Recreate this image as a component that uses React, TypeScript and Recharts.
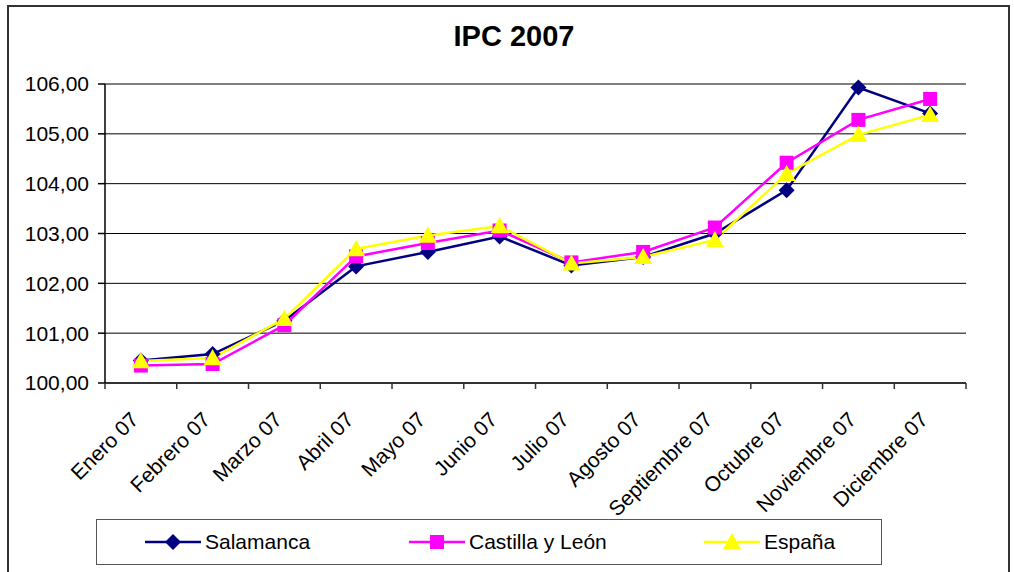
import React from 'react';
import { CartesianGrid, Line, LineChart, XAxis, YAxis } from 'recharts';

const months = [
  'Enero 07',
  'Febrero 07',
  'Marzo 07',
  'Abril 07',
  'Mayo 07',
  'Junio 07',
  'Julio 07',
  'Agosto 07',
  'Septiembre 07',
  'Octubre 07',
  'Noviembre 07',
  'Diciembre 07',
];

const salamanca = [100.45, 100.58, 101.25, 102.34, 102.63, 102.94, 102.36, 102.53, 103.0, 103.87, 105.93, 105.41];
const castillaLeon = [100.35, 100.38, 101.16, 102.54, 102.81, 103.06, 102.42, 102.63, 103.12, 104.42, 105.28, 105.7];
const espana = [100.44, 100.5, 101.29, 102.69, 102.96, 103.15, 102.4, 102.53, 102.87, 104.2, 104.98, 105.38];

const yTicks = [100, 101, 102, 103, 104, 105, 106];

const data = months.map((m, i) => ({
  month: m,
  salamanca: salamanca[i],
  castillaLeon: castillaLeon[i],
  espana: espana[i],
}));

const FONT = '"Liberation Sans", Arial, sans-serif';
const HALF = 35.85; // half of a category slot
const NAVY = '#000080';
const MAGENTA = '#FF00FF';
const YELLOW = '#FFFF00';

const Diamond = ({ cx, cy, fill, s = 8 }: any) =>
  cx == null || cy == null ? null : (
    <path d={`M${cx},${cy - s} L${cx + s},${cy} L${cx},${cy + s} L${cx - s},${cy} Z`} fill={fill} />
  );

const Square = ({ cx, cy, fill, s = 7 }: any) =>
  cx == null || cy == null ? null : <rect x={cx - s} y={cy - s} width={s * 2} height={s * 2} fill={fill} />;

const Triangle = ({ cx, cy, fill, s = 9 }: any) =>
  cx == null || cy == null ? null : (
    <path d={`M${cx},${cy - s} L${cx + s},${cy + s * 0.8} L${cx - s},${cy + s * 0.8} Z`} fill={fill} />
  );

const MonthTick = ({ x, y, payload, index }: any) => (
  <g>
    <line x1={x - HALF} y1={y} x2={x - HALF} y2={y + 6} stroke='#333' strokeWidth={1.5} />
    {index === months.length - 1 && (
      <line x1={x + HALF} y1={y} x2={x + HALF} y2={y + 6} stroke='#333' strokeWidth={1.5} />
    )}
    <text
      x={x - 1}
      y={y + 38}
      transform={`rotate(-45, ${x - 1}, ${y + 38})`}
      textAnchor='end'
      fontSize={21}
      fontFamily={FONT}
      fill='#000'
    >
      {payload.value}
    </text>
  </g>
);

const legendItems = [
  { label: 'Salamanca', color: NAVY, left: 48, Marker: Diamond },
  { label: 'Castilla y León', color: MAGENTA, left: 312, Marker: Square },
  { label: 'España', color: YELLOW, left: 607, Marker: Triangle },
];

const App = () => {
  return (
    <div
      style={{
        position: 'absolute',
        left: 0,
        top: 0,
        width: 1014,
        height: 572,
        overflow: 'hidden',
        background: '#fff',
        fontFamily: FONT,
      }}
    >
      <div
        style={{
          position: 'absolute',
          left: 7,
          top: 5,
          width: 999,
          height: 620,
          border: '2px solid #333',
        }}
      />
      <div
        style={{
          position: 'absolute',
          left: 0,
          top: 22,
          width: 1028,
          textAlign: 'center',
          fontSize: 29,
          lineHeight: '29px',
          fontWeight: 'bold',
        }}
      >
        IPC 2007
      </div>

      <div style={{ position: 'absolute', left: 0, top: 0 }}>
        <LineChart width={1014} height={572} data={data} margin={{ top: 84, right: 48, left: 6, bottom: 0 }}>
          <CartesianGrid vertical={false} stroke='#000' strokeWidth={1} />
          <XAxis
            dataKey='month'
            height={189}
            interval={0}
            padding={{ left: HALF, right: HALF }}
            tickLine={false}
            tickSize={0}
            tickMargin={0}
            axisLine={{ stroke: '#333', strokeWidth: 2 }}
            tick={<MonthTick />}
          />
          <XAxis
            xAxisId='top'
            dataKey='month'
            orientation='top'
            height={0}
            tick={false}
            tickLine={false}
            axisLine={{ stroke: '#808080', strokeWidth: 2.5 }}
          />
          <YAxis
            width={99}
            domain={[100, 106]}
            ticks={yTicks}
            interval={0}
            tickSize={7}
            tickMargin={9}
            tickLine={{ stroke: '#000', strokeWidth: 1.5 }}
            axisLine={{ stroke: '#000', strokeWidth: 1.5 }}
            tick={{ fontSize: 21, fontFamily: FONT, fill: '#000' }}
            tickFormatter={(v) => v.toFixed(2).replace('.', ',')}
          />
          <YAxis
            yAxisId='r'
            orientation='right'
            width={0}
            domain={[100, 106]}
            tick={false}
            tickLine={false}
            axisLine={{ stroke: '#808080', strokeWidth: 2.5 }}
          />
          <Line
            dataKey='salamanca'
            stroke={NAVY}
            strokeWidth={2.5}
            isAnimationActive={false}
            dot={(p: any) => <Diamond key={`s${p.index}`} cx={p.cx} cy={p.cy} fill={NAVY} />}
          />
          <Line
            dataKey='castillaLeon'
            stroke={MAGENTA}
            strokeWidth={2.5}
            isAnimationActive={false}
            dot={(p: any) => <Square key={`c${p.index}`} cx={p.cx} cy={p.cy} fill={MAGENTA} />}
          />
          <Line
            dataKey='espana'
            stroke={YELLOW}
            strokeWidth={2.5}
            isAnimationActive={false}
            dot={(p: any) => <Triangle key={`e${p.index}`} cx={p.cx} cy={p.cy} fill={YELLOW} />}
          />
        </LineChart>
      </div>

      <div
        style={{
          position: 'absolute',
          left: 96,
          top: 519,
          width: 784,
          height: 44,
          border: '1px solid #555',
        }}
      >
        {legendItems.map(({ label, color, left, Marker }) => (
          <div
            key={label}
            style={{ position: 'absolute', left, top: 0, height: 44, display: 'flex', alignItems: 'center' }}
          >
            <svg width={56} height={24} style={{ display: 'block' }}>
              <line x1={0} y1={12} x2={56} y2={12} stroke={color} strokeWidth={2.5} />
              <Marker cx={28} cy={12} fill={color} />
            </svg>
            <span style={{ fontSize: 21, marginLeft: 4, color: '#000' }}>{label}</span>
          </div>
        ))}
      </div>
    </div>
  );
};

export default App;
